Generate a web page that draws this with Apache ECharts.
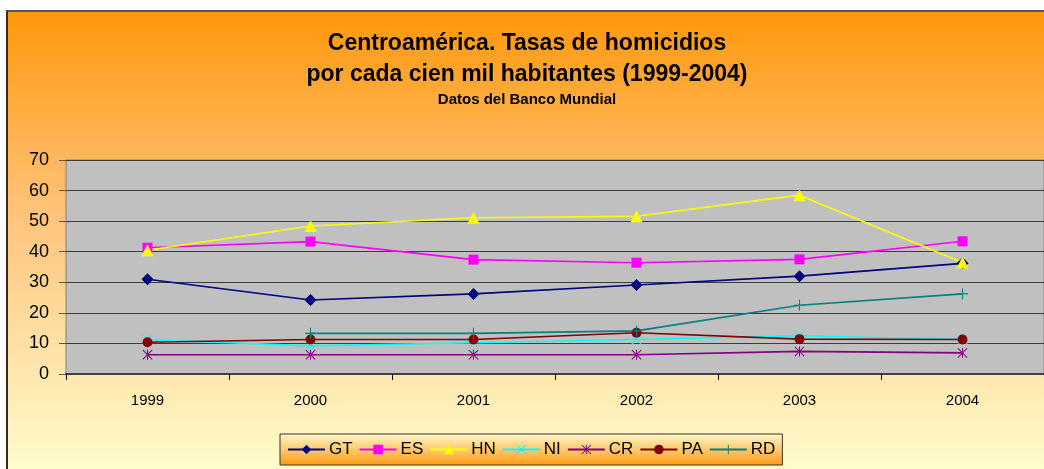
<!DOCTYPE html>
<html>
<head>
<meta charset="utf-8">
<script src="https://cdn.jsdelivr.net/npm/echarts@6/dist/echarts.min.js"></script>
<style>
  html, body { margin: 0; padding: 0; background: #fff; }
  #chart {
    position: absolute; left: 6px; top: 10px;
    width: 1038px; height: 457px;
    border-left: 2px solid #3a2a1a; border-top: 2px solid #555;
  }
</style>
</head>
<body>
<div id="chart"></div>
<script>
// datos
var years = ['1999', '2000', '2001', '2002', '2003', '2004'];
var gt = [31.0, 24.2, 26.2, 29.1, 32.0, 36.2];
var es = [41.3, 43.3, 37.4, 36.4, 37.5, 43.4];
var hn = [40.5, 48.4, 51.1, 51.6, 58.5, 36.5];
var ni = [11.3, 9.2, 10.2, 11.3, 12.5, 11.3];
var cr = [6.3, 6.3, 6.3, 6.3, 7.4, 6.9];
var pa = [10.4, 11.3, 11.3, 13.5, 11.4, 11.3];
var rd = [null, 13.3, 13.3, 14.1, 22.5, 26.2];

// simbolos
var xMark = 'path://M0,1.4L1.4,0L10,8.6L18.6,0L20,1.4L11.4,10L20,18.6L18.6,20L10,11.4L1.4,20L0,18.6L8.6,10Z';
var starMark = xMark + 'M9,0H11V20H9Z';
var plusMark = 'path://M9,0H11V9H20V11H11V20H9V11H0V9H9Z';

var mkSeries = function (name, data, color, symbol, size) {
  return {
    name: name,
    type: 'line',
    data: data,
    symbol: symbol,
    symbolSize: size,
    showAllSymbol: true,
    connectNulls: false,
    lineStyle: { color: color, width: 1.6 },
    itemStyle: { color: color },
    emphasis: { disabled: true }
  };
};

var myChart = echarts.init(document.getElementById('chart'));
var option = {
  animation: false,
  backgroundColor: new echarts.graphic.LinearGradient(0, 0, 0, 1, [
    { offset: 0, color: '#ff980c' },
    { offset: 0.45, color: '#ffc47c' },
    { offset: 1, color: '#fffccc' }
  ]),
  textStyle: { fontFamily: 'Liberation Sans, Arial, sans-serif', color: '#000' },
  title: {
    text: 'Centroamérica. Tasas de homicidios\npor cada cien mil habitantes (1999-2004)',
    subtext: 'Datos del Banco Mundial',
    left: 'center',
    top: 11,
    itemGap: 1,
    textStyle: { fontSize: 23, fontWeight: 'bold', lineHeight: 31, color: '#000' },
    subtextStyle: { fontSize: 15, fontWeight: 'bold', lineHeight: 18, color: '#000' }
  },
  legend: {
    left: 272,
    top: 422,
    padding: [7, 7],
    itemWidth: 37,
    itemHeight: 12,
    itemGap: 6,
    borderColor: '#333',
    borderWidth: 1,
    borderRadius: 0,
    backgroundColor: new echarts.graphic.LinearGradient(0, 0, 0, 1, [
      { offset: 0, color: '#fff8c8' },
      { offset: 1, color: '#ff9a14' }
    ]),
    textStyle: { fontSize: 17, color: '#000', padding: [0, 0, 0, -1] },
    data: ['GT', 'ES', 'HN', 'NI', 'CR', 'PA', 'RD']
  },
  grid: {
    show: true,
    left: 58,
    right: 2,
    top: 148,
    height: 214,
    backgroundColor: '#c0c0c0',
    borderColor: '#808080',
    borderWidth: 1
  },
  xAxis: {
    type: 'category',
    data: years,
    boundaryGap: true,
    axisLine: { show: true, lineStyle: { color: '#404040', width: 2 } },
    axisTick: { show: true, length: 6, inside: false, lineStyle: { color: '#000' } },
    axisLabel: { fontSize: 15, color: '#000', margin: 19 }
  },
  yAxis: {
    type: 'value',
    min: 0,
    max: 70,
    interval: 10,
    axisLine: { show: false },
    axisTick: { show: true, length: 7, lineStyle: { color: '#555' } },
    axisLabel: { fontSize: 18, color: '#000', margin: 17 },
    splitLine: { show: true, lineStyle: { color: '#3c3c3c', width: 1 } }
  },
  series: [
    mkSeries('GT', gt, '#000080', 'diamond', 12),
    mkSeries('ES', es, '#ff00ff', 'rect', 10),
    mkSeries('HN', hn, '#ffff00', 'triangle', 12),
    mkSeries('NI', ni, '#00ffff', xMark, 10),
    mkSeries('CR', cr, '#800080', starMark, 10),
    mkSeries('PA', pa, '#800000', 'circle', 10),
    mkSeries('RD', rd, '#008080', plusMark, 11)
  ]
};
myChart.setOption(option);
</script>
</body>
</html>
